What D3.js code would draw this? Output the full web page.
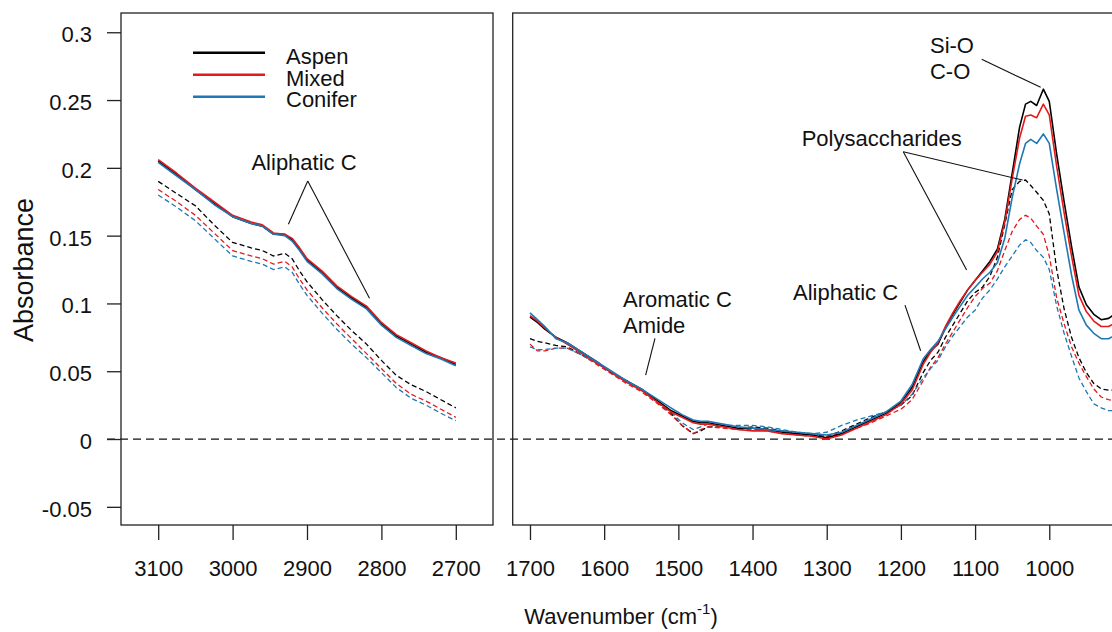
<!DOCTYPE html>
<html>
<head>
<meta charset="utf-8">
<script src="https://cdn.jsdelivr.net/npm/d3@7"></script>
<style>
  body { margin: 0; background: #fff; }
  text { font-family: "Liberation Sans", Arial, sans-serif; fill: #111; }
</style>
</head>
<body>
<div id="chart"></div>
<script>
// Wavenumbers (cm-1) for each panel
const leftWave = [3100, 3075, 3050, 3025, 3000, 2975, 2960, 2945, 2930, 2920, 2910, 2900,
    2880, 2860, 2840, 2820, 2800, 2780, 2760, 2740, 2720, 2700];
const rightWave = [1700, 1690, 1680, 1665, 1650, 1630, 1610, 1590, 1570, 1550, 1530, 1510,
    1495, 1480, 1470, 1460, 1440, 1420, 1400, 1380, 1360, 1340, 1320, 1300, 1280, 1260,
    1240, 1220, 1200, 1185, 1170, 1160, 1150, 1140, 1130, 1120, 1110, 1100, 1090, 1080,
    1070, 1060, 1050, 1040, 1032, 1025, 1017, 1008, 1000, 990, 980, 970, 960, 950, 940,
    930, 920, 910, 900];

// Absorbance, solid curves
const aspenLeft = [.205, .195, .184, .174, .164, .159, .157, .151, .151, .147, .140, .132,
    .123, .112, .104, .097, .085, .076, .070, .064, .060, .055];
const mixedLeft = [.206, .196, .185, .175, .165, .160, .158, .152, .151, .148, .141, .133,
    .124, .113, .105, .098, .086, .077, .071, .065, .060, .056];
const coniferLeft = [.204, .194, .184, .173, .164, .159, .157, .151, .150, .146, .139, .131,
    .122, .111, .103, .096, .084, .075, .069, .063, .059, .054];

// Absorbance, dashed curves
const aspenLeftDash = [.190, .181, .172, .158, .145, .141, .139, .135, .137, .133, .124, .116,
    .103, .091, .080, .070, .058, .047, .040, .035, .029, .023];
const mixedLeftDash = [.184, .175, .165, .152, .139, .135, .133, .129, .131, .127, .118, .110,
    .097, .085, .074, .063, .052, .041, .033, .028, .022, .016];
const coniferLeftDash = [.180, .171, .161, .148, .135, .131, .129, .125, .127, .123, .114, .106,
    .093, .081, .070, .060, .049, .038, .030, .025, .019, .0135];

const aspenRight = [.090, .086, .081, .075, .071, .064, .057, .049, .043, .037, .029, .021,
    .017, .013, .012, .012, .010, .008, .008, .007, .005, .004, .003, .001, .004, .009,
    .014, .019, .027, .038, .057, .065, .070, .082, .092, .101, .110, .117, .124, .131,
    .140, .162, .196, .230, .247, .249, .246, .258, .249, .210, .175, .142, .112, .099, .092,
    .088, .089, .093, .097];
const mixedRight = [.091, .087, .082, .075, .070, .063, .056, .049, .042, .036, .028, .020,
    .016, .012, .011, .011, .009, .007, .006, .006, .004, .003, .002, .000, .003, .008,
    .013, .018, .026, .036, .055, .064, .071, .083, .093, .102, .110, .117, .123, .129,
    .138, .160, .192, .222, .238, .239, .237, .247, .239, .201, .167, .135, .106, .094, .087,
    .083, .083, .086, .089];
const coniferRight = [.093, .088, .083, .074, .071, .064, .057, .050, .043, .037, .030, .023,
    .018, .014, .013, .013, .011, .009, .008, .007, .006, .005, .004, .003, .005, .010,
    .015, .020, .028, .040, .059, .066, .072, .081, .090, .098, .106, .112, .118, .123,
    .130, .148, .178, .203, .218, .221, .218, .225, .218, .184, .152, .121, .095, .084, .078,
    .074, .074, .077, .080];

const aspenRightDash = [.074, .072, .071, .069, .068, .062, .056, .049, .043, .036, .028, .019,
    .010, .004, .006, .009, .009, .008, .009, .008, .006, .004, .003, .002, .006, .011,
    .016, .020, .025, .032, .049, .058, .064, .075, .084, .093, .102, .108, .112, .120,
    .134, .158, .184, .190, .191, .187, .182, .176, .166, .125, .096, .075, .060, .049, .041,
    .037, .036, .036, .037];
const mixedRightDash = [.070, .065, .065, .067, .067, .062, .055, .048, .041, .035, .027, .018,
    .010, .004, .007, .009, .008, .007, .007, .006, .004, .003, .002, .002, .004, .008,
    .012, .017, .022, .029, .043, .053, .060, .070, .079, .088, .097, .105, .111, .115,
    .124, .139, .153, .162, .165, .163, .157, .151, .135, .104, .085, .068, .056, .046, .037,
    .031, .029, .028, .028];
const coniferRightDash = [.068, .066, .066, .067, .067, .062, .056, .049, .042, .036, .028, .020,
    .012, .007, .009, .011, .010, .010, .010, .009, .007, .005, .004, .005, .010, .014,
    .017, .020, .025, .033, .045, .052, .058, .068, .076, .083, .090, .095, .104, .110,
    .118, .127, .135, .143, .147, .145, .139, .134, .125, .098, .078, .061, .045, .035, .026,
    .023, .021, .021, .021];

// Legend and axes
const legendNames = ['Aspen', 'Mixed', 'Conifer'];
const legendColors = ['#000000', '#E31A1C', '#1F78B4'];
const yTicks = [-0.05, 0, 0.05, 0.1, 0.15, 0.2, 0.25, 0.3];
const yTickLabels = ['-0.05', '0', '0.05', '0.1', '0.15', '0.2', '0.25', '0.3'];
const leftTicks = [3100, 3000, 2900, 2800, 2700];
const rightTicks = [1700, 1600, 1500, 1400, 1300, 1200, 1100, 1000];

// Annotations: [wavenumber, absorbance]
const leftNotes = [{ lines: ['Aliphatic C'], at: [2904, 0.1984], anchor: 'middle',
    leaders: [[[2899, 0.1903], [2925, 0.1584]], [[2899, 0.1903], [2816, 0.1038]]] }];
const rightNotes = [
    { lines: ['Si-O', 'C-O'], at: [1160.8, 0.2847], anchor: 'start',
      leaders: [[[1091.1, 0.2801], [1011.6, 0.2594]]] },
    { lines: ['Polysaccharides'], at: [1333.8, 0.2161], anchor: 'start',
      leaders: [[[1196.8, 0.2119], [1111.4, 0.1247]], [[1196.8, 0.2119], [1035.9, 0.1910]]] },
    { lines: ['Aliphatic C'], at: [1345.5, 0.1025], anchor: 'start',
      leaders: [[[1194.5, 0.0988], [1173.4, 0.0651]]] },
    { lines: ['Aromatic C', 'Amide'], at: [1574.6, 0.0976], anchor: 'start',
      leaders: [[[1531.5, 0.0743], [1544.1, 0.0472]]] }
];

// Set up dimensions
const width = 1112;
const height = 632;
const plotTop = 13, plotBottom = 525;
const font = '"Liberation Sans", Arial, sans-serif';

const svg = d3.select('#chart')
    .append('svg')
    .attr('width', width)
    .attr('height', height);

svg.append('rect').attr('width', width).attr('height', height).attr('fill', '#fff');

// Scales
const y = d3.scaleLinear().domain([-0.0634, 0.3142]).range([plotBottom, plotTop]);
const xLeft = d3.scaleLinear().domain([3150, 2650]).range([121, 493]);
const xRight = d3.scaleLinear().domain([1723.3, 877.7]).range([512.7, 1140]);

const defs = svg.append('defs');
[['clipL', xLeft], ['clipR', xRight]].forEach(([id, sc]) => {
    defs.append('clipPath').attr('id', id)
        .append('rect')
        .attr('x', sc.range()[0]).attr('y', plotTop)
        .attr('width', sc.range()[1] - sc.range()[0]).attr('height', plotBottom - plotTop);
});

// Zero line across both panels
svg.append('line')
    .attr('x1', 107).attr('x2', width)
    .attr('y1', y(0)).attr('y2', y(0))
    .attr('stroke', '#111')
    .attr('stroke-width', 1.3)
    .attr('stroke-dasharray', '8,5');

// Draw curves
function drawPanel(xs, waves, clipId, solids, dashes) {
    const g = svg.append('g').attr('clip-path', `url(#${clipId})`);
    const line = d3.line().x((d, i) => xs(waves[i])).y(d => y(d));
    dashes.forEach((s, k) => {
        g.append('path').attr('d', line(s))
            .attr('fill', 'none')
            .attr('stroke', legendColors[k])
            .attr('stroke-width', 1.3)
            .attr('stroke-dasharray', '5,3');
    });
    solids.forEach((s, k) => {
        g.append('path').attr('d', line(s))
            .attr('fill', 'none')
            .attr('stroke', legendColors[k])
            .attr('stroke-width', 1.6)
            .attr('stroke-linejoin', 'round');
    });
}
drawPanel(xLeft, leftWave, 'clipL',
    [aspenLeft, mixedLeft, coniferLeft], [aspenLeftDash, mixedLeftDash, coniferLeftDash]);
drawPanel(xRight, rightWave, 'clipR',
    [aspenRight, mixedRight, coniferRight], [aspenRightDash, mixedRightDash, coniferRightDash]);

// Panel boxes
[xLeft, xRight].forEach(sc => {
    svg.append('rect')
        .attr('x', sc.range()[0]).attr('y', plotTop)
        .attr('width', sc.range()[1] - sc.range()[0]).attr('height', plotBottom - plotTop)
        .attr('fill', 'none')
        .attr('stroke', '#222')
        .attr('stroke-width', 1.3);
});

// Axes
function styleAxis(g) {
    g.select('.domain').remove();
    g.selectAll('line').attr('stroke', '#222').attr('stroke-width', 1.3);
    g.selectAll('text').attr('font-size', 22).attr('font-family', font).attr('fill', '#111');
}
svg.append('g')
    .attr('transform', 'translate(121,0)')
    .call(d3.axisLeft(y).tickValues(yTicks).tickFormat((d, i) => yTickLabels[i])
        .tickSize(14).tickPadding(15))
    .call(styleAxis)
    .selectAll('text').attr('dy', '9.5px');

svg.append('g')
    .attr('transform', `translate(0,${plotBottom})`)
    .call(d3.axisBottom(xLeft).tickValues(leftTicks).tickFormat(d3.format('d'))
        .tickSize(15).tickPadding(20))
    .call(styleAxis);
svg.append('g')
    .attr('transform', `translate(0,${plotBottom})`)
    .call(d3.axisBottom(xRight).tickValues(rightTicks).tickFormat(d3.format('d'))
        .tickSize(15).tickPadding(20))
    .call(styleAxis);

// Axis titles
svg.append('text')
    .attr('transform', 'translate(33,270) rotate(-90)')
    .attr('text-anchor', 'middle')
    .attr('font-size', 27)
    .text('Absorbance');

const xt = svg.append('text')
    .attr('x', 621).attr('y', 624)
    .attr('text-anchor', 'middle')
    .attr('font-size', 22);
xt.append('tspan').text('Wavenumber (cm');
xt.append('tspan').attr('font-size', 15).attr('dy', -10).text('-1');
xt.append('tspan').attr('dy', 10).text(')');

// Legend
legendNames.forEach((name, i) => {
    svg.append('line')
        .attr('x1', 193).attr('x2', 265)
        .attr('y1', 52.7 + i * 22).attr('y2', 52.7 + i * 22)
        .attr('stroke', legendColors[i])
        .attr('stroke-width', 2.6);
    svg.append('text')
        .attr('x', 286).attr('y', 64 + i * 21.5)
        .attr('font-size', 22)
        .text(name);
});

// Annotations
function drawNotes(xs, notes) {
    notes.forEach(n => {
        n.leaders.forEach(seg => {
            svg.append('line')
                .attr('x1', xs(seg[0][0])).attr('y1', y(seg[0][1]))
                .attr('x2', xs(seg[1][0])).attr('y2', y(seg[1][1]))
                .attr('stroke', '#111')
                .attr('stroke-width', 1.1);
        });
        n.lines.forEach((t, i) => {
            svg.append('text')
                .attr('x', xs(n.at[0]))
                .attr('y', y(n.at[1]) + i * 26.3)
                .attr('text-anchor', n.anchor)
                .attr('font-size', 22)
                .text(t);
        });
    });
}
drawNotes(xLeft, leftNotes);
drawNotes(xRight, rightNotes);
</script>
</body>
</html>
